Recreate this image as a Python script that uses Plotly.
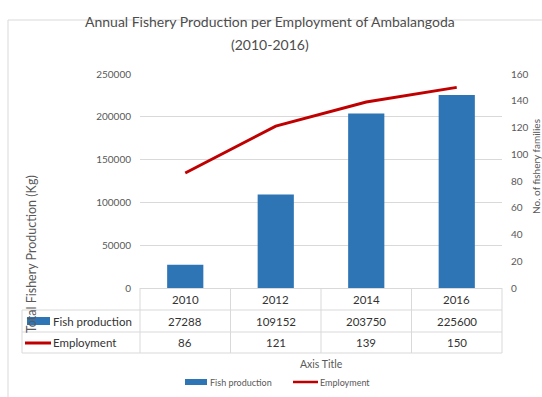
import plotly.graph_objects as go

# Annual fishery production and employment, Ambalangoda 2010-2016
years = ["2010", "2012", "2014", "2016"]
fish_production = [27288, 109152, 203750, 225600]
employment = [86, 121, 139, 150]

title_line1 = "Annual Fishery Production per Employment of Ambalangoda"
title_line2 = "(2010-2016)"
left_title = "Total Fishery Production (Kg)"
right_title = "No. of fishery families"
x_title = "Axis Title"
series_names = ["Fish production", "Employment"]

W, H = 542, 397
L, R, T, B = 140, 502, 74, 288  # plot area in pixels

BLUE = "#2E75B6"
RED = "#C00000"
GRID = "#D9D9D9"
MUTED = "#595959"
DARK = "#333333"
FONT = "Lato, 'Open Sans', sans-serif"


def px(xp):
    return (xp - L) / (R - L)


def py(yp):
    return (B - yp) / (B - T)


fig = go.Figure()
fig.add_trace(go.Bar(x=years, y=fish_production, name=series_names[0],
                     marker=dict(color=BLUE, line=dict(width=0)), width=0.4,
                     yaxis="y"))
fig.add_trace(go.Scatter(x=years, y=employment, name=series_names[1],
                         mode="lines", line=dict(color=RED, width=3),
                         yaxis="y2"))

shapes = []
ann = []

# outer chart frame
shapes.append(dict(type="rect", xref="paper", yref="paper",
                   x0=px(8), x1=px(600), y0=py(20), y1=py(460),
                   line=dict(color=GRID, width=1), fillcolor="rgba(0,0,0,0)",
                   layer="below"))

# data table grid
row_lines = [310, 332, 353]
shapes.append(dict(type="line", xref="paper", yref="paper",
                   x0=0, x1=1, y0=py(288.5), y1=py(288.5),
                   line=dict(color=GRID, width=1)))
for yl in row_lines:
    shapes.append(dict(type="line", xref="paper", yref="paper",
                       x0=px(22), x1=1, y0=py(yl), y1=py(yl),
                       line=dict(color=GRID, width=1)))
shapes.append(dict(type="line", xref="paper", yref="paper",
                   x0=px(22), x1=px(22), y0=py(310), y1=py(353),
                   line=dict(color=GRID, width=1)))
for xv in [0, 1]:
    shapes.append(dict(type="line", xref="paper", yref="paper",
                       x0=xv, x1=xv, y0=py(288), y1=py(353),
                       line=dict(color=GRID, width=1)))
for i in range(len(years) - 1):
    shapes.append(dict(type="line", xref="x", yref="paper",
                       x0=i + 0.5, x1=i + 0.5, y0=py(288), y1=py(353),
                       line=dict(color=GRID, width=1)))

# table cells: header years, then one row per series
tfont = dict(family=FONT, size=11.5, color=DARK)
for i, yr in enumerate(years):
    ann.append(dict(x=i, xref="x", y=py(299.5), yref="paper", text=yr,
                    showarrow=False, font=tfont, xanchor="center", yanchor="middle"))
    ann.append(dict(x=i, xref="x", y=py(321), yref="paper",
                    text=str(fish_production[i]), showarrow=False, font=tfont,
                    xanchor="center", yanchor="middle"))
    ann.append(dict(x=i, xref="x", y=py(342.5), yref="paper",
                    text=str(employment[i]), showarrow=False, font=tfont,
                    xanchor="center", yanchor="middle"))

# row headers with legend keys
shapes.append(dict(type="rect", xref="paper", yref="paper",
                   x0=px(27), x1=px(50), y0=py(325), y1=py(317),
                   fillcolor=BLUE, line=dict(width=0)))
shapes.append(dict(type="line", xref="paper", yref="paper",
                   x0=px(25), x1=px(51), y0=py(343), y1=py(343),
                   line=dict(color=RED, width=3)))
ann.append(dict(x=px(51), xref="paper", y=py(321), yref="paper",
                text=series_names[0], showarrow=False, font=tfont,
                xanchor="left", yanchor="middle"))
ann.append(dict(x=px(51), xref="paper", y=py(342.5), yref="paper",
                text=series_names[1], showarrow=False, font=tfont,
                xanchor="left", yanchor="middle"))

# titles
title_font = dict(family=FONT, size=14, color="#4D4D4D")
ann.append(dict(x=px(270), xref="paper", y=py(22), yref="paper",
                text=title_line1, showarrow=False, font=title_font,
                xanchor="center", yanchor="middle"))
ann.append(dict(x=px(270), xref="paper", y=py(45), yref="paper",
                text=title_line2, showarrow=False, font=title_font,
                xanchor="center", yanchor="middle"))
ann.append(dict(x=px(31), xref="paper", y=py(254), yref="paper",
                text=left_title, showarrow=False,
                font=dict(family=FONT, size=12.5, color=MUTED), textangle=-90,
                xanchor="center", yanchor="middle"))
ann.append(dict(x=px(536), xref="paper", y=py(167), yref="paper",
                text=right_title, showarrow=False,
                font=dict(family=FONT, size=10, color=MUTED), textangle=-90,
                xanchor="center", yanchor="middle"))
ann.append(dict(x=0.5, xref="paper", y=py(364), yref="paper",
                text=x_title, showarrow=False, font=dict(family=FONT, size=10.5, color=MUTED),
                xanchor="center", yanchor="middle"))

# bottom legend
lfont = dict(family=FONT, size=9, color=MUTED)
shapes.append(dict(type="rect", xref="paper", yref="paper",
                   x0=px(185), x1=px(207), y0=py(385), y1=py(379),
                   fillcolor=BLUE, line=dict(width=0)))
ann.append(dict(x=px(208), xref="paper", y=py(382), yref="paper",
                text=series_names[0], showarrow=False, font=lfont,
                xanchor="left", yanchor="middle"))
shapes.append(dict(type="line", xref="paper", yref="paper",
                   x0=px(293), x1=px(318), y0=py(382), y1=py(382),
                   line=dict(color=RED, width=2.5)))
ann.append(dict(x=px(318), xref="paper", y=py(382), yref="paper",
                text=series_names[1], showarrow=False, font=lfont,
                xanchor="left", yanchor="middle"))

tick_font = dict(family=FONT, size=10, color=MUTED)
fig.update_layout(
    width=W, height=H,
    margin=dict(l=L, r=W - R, t=T, b=H - B),
    paper_bgcolor="white", plot_bgcolor="white",
    showlegend=False,
    bargap=0.6,
    xaxis=dict(type="category", range=[-0.5, 3.5], showticklabels=False,
               showgrid=False, zeroline=False, showline=False, ticks=""),
    yaxis=dict(range=[0, 250000], dtick=50000, tickformat="d",
               showgrid=True, gridcolor=GRID, gridwidth=1, zeroline=False,
               showline=False, ticks="", tickfont=tick_font,
               ticklabelstandoff=8),
    yaxis2=dict(range=[0, 160], dtick=20, overlaying="y", side="right",
                showgrid=False, zeroline=False, showline=False, ticks="",
                tickfont=tick_font, ticklabelstandoff=8),
    shapes=shapes,
    annotations=ann,
    font=dict(family=FONT),
)

fig.write_html("out.html")
